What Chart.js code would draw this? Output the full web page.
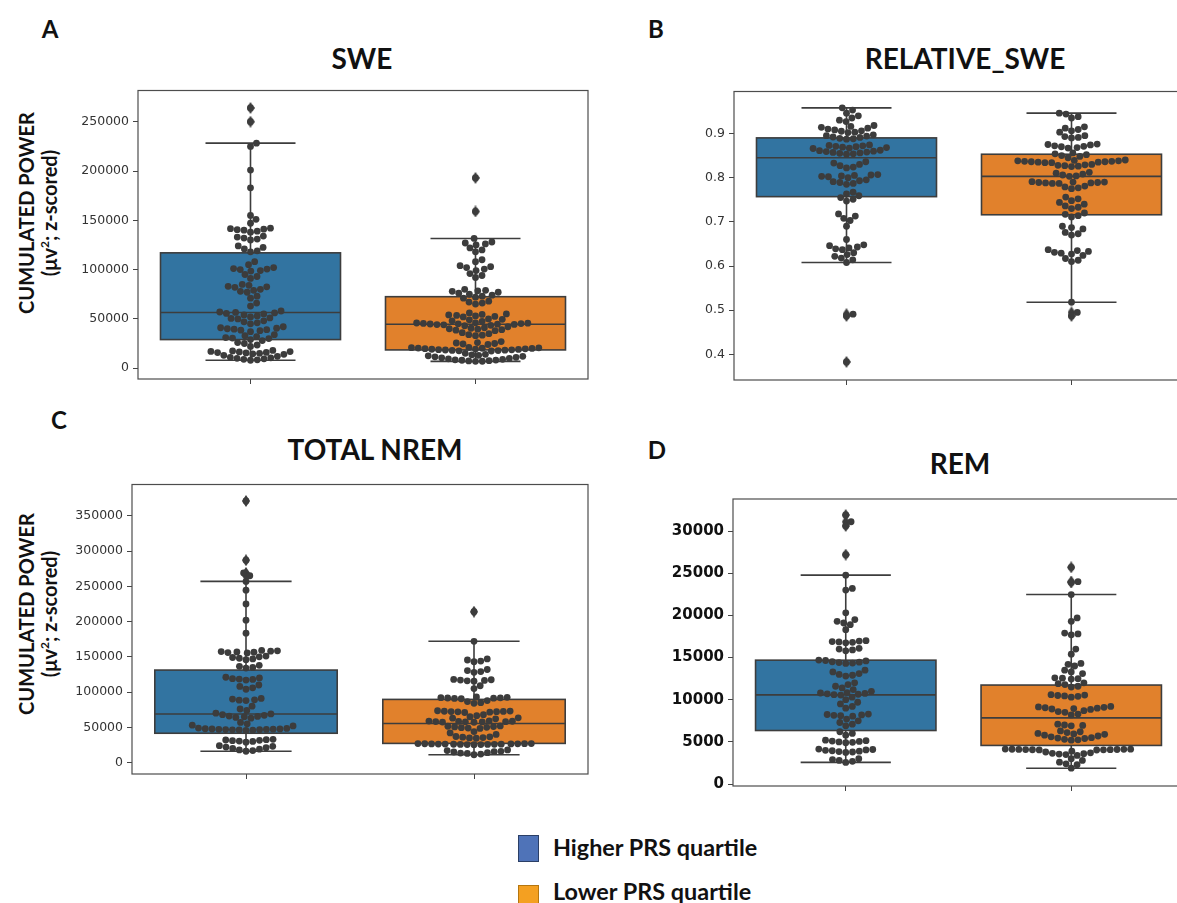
<!DOCTYPE html>
<html>
<head>
<meta charset="utf-8">
<script src="https://cdn.jsdelivr.net/npm/chart.js@4"></script>
<style>
  html, body { margin: 0; padding: 0; background: #fff; }
  #page { position: relative; width: 1177px; height: 903px; overflow: hidden; }
  canvas { position: absolute; }
  .txt { position: absolute; font-family: Lato, "Open Sans", sans-serif; font-weight: bold; color: #111;
         white-space: nowrap; line-height: 1; transform: translate(-50%, -50%); }
  .ytitle { position: absolute; font-family: Lato, "Open Sans", sans-serif; font-weight: bold; color: #111;
            white-space: nowrap; text-align: center; line-height: 23px; font-size: 20px;
            transform: translate(-50%, -50%) rotate(-90deg); }
  .ytitle sup { font-size: 12px; line-height: 0; }
  .sw { position: absolute; width: 19px; border: 1.5px solid; }
  .lg { position: absolute; font-family: Lato, "Open Sans", sans-serif; font-weight: bold; color: #111;
        font-size: 23.4px; white-space: nowrap; }
</style>
</head>
<body>
<div id="page">
  <div class="txt" style="left:50px;top:29px;font-size:24px">A</div>
  <div class="txt" style="left:656px;top:29px;font-size:24px">B</div>
  <div class="txt" style="left:59px;top:420px;font-size:24px">C</div>
  <div class="txt" style="left:657px;top:450px;font-size:24px">D</div>

  <div class="txt" style="left:362px;top:58px;font-size:28px">SWE</div>
  <div class="txt" style="left:965px;top:58px;font-size:28px">RELATIVE_SWE</div>
  <div class="txt" style="left:375px;top:449px;font-size:28px">TOTAL NREM</div>
  <div class="txt" style="left:960px;top:463px;font-size:28px">REM</div>

  <div class="ytitle" style="left:38px;top:213px">CUMULATED POWER<br>(μv<sup>2</sup>; z-scored)</div>
  <div class="ytitle" style="left:38px;top:614px">CUMULATED POWER<br>(μv<sup>2</sup>; z-scored)</div>

  <div class="sw" style="left:518px;top:835px;height:25px;background:#4f73b8;border-color:#2b3f66"></div>
  <div class="lg" style="left:553px;top:833px">Higher PRS quartile</div>
  <div class="sw" style="left:518px;top:885px;height:25px;background:#f4a021;border-color:#b5760f"></div>
  <div class="lg" style="left:553px;top:877px">Lower PRS quartile</div>

  <canvas id="chartSwe"></canvas>
  <canvas id="chartRelSwe"></canvas>
  <canvas id="chartNrem"></canvas>
  <canvas id="chartRem"></canvas>
</div>
<script>
// ---- A: SWE ----
const sweTicks = [0, 50000, 100000, 150000, 200000, 250000];
const sweQ1 = [29000, 18500];
const sweMedian = [56500, 44500];
const sweQ3 = [117000, 72500];
const sweWhiskerLow = [8000, 6900];
const sweWhiskerHigh = [228300, 131600];
const sweHigher = [264000, 250000,
  228300, 225000, 201000, 183000, 155000, 151000, 147000,
  142000, 141500, 141000, 140500, 140000, 139000, 138000,
  134000, 133000, 132000, 131000, 130000,
  124000, 122500, 121000, 119000, 118000,
  108000, 105000,
  102000, 101000, 100500, 100000, 99000, 98500,
  95000, 93000, 91000,
  85000, 84000, 83000, 82500, 82000,
  80000, 79000, 78000, 77000,
  73000, 71000, 66000, 63000,
  58000, 57000, 56500, 56000, 55500, 55000, 54000,
  53000, 52000, 51000, 50500, 50000,
  48000, 47000, 46000, 45000,
  42000, 41000, 40500, 40000, 39500, 39000, 38500, 38000, 37000,
  34000, 33000, 32000, 31000, 30500, 30000, 29000, 28000,
  26000, 25000, 23500, 22000,
  18000, 17500, 17000, 16800, 16500, 16000, 15800, 15500, 15000, 14500, 14000, 13000,
  12000, 11000, 10500, 10000, 9500, 9000, 8500, 8000];
const sweLower = [193000, 159000,
  131600, 128000, 127000, 126000, 125000, 122000, 120000, 118000, 110000, 108000,
  104000, 103000, 102000, 100500, 99000, 96000, 94000, 92000,
  80000, 79000, 78500, 78000, 77000, 76000,
  75000, 74000, 73000, 72000, 71000,
  68000, 67000, 66000, 65000,
  56000, 55000, 54500, 54000, 53500, 53000, 52500, 52000,
  50000, 49500, 49000, 48000, 47500,
  46000, 45800, 45600, 45400, 45200, 45000, 44800, 44600, 44400, 44200, 44000, 43500, 43000,
  42000, 41000, 40500, 40000, 39500, 39000, 38500, 38000,
  36000, 35000, 34000, 33500, 33000,
  27000, 26000, 25500, 25000, 24500, 24000,
  21000, 20800, 20600, 20400, 20200, 20000, 19800, 19600, 19400, 19200, 19000, 18800, 18600, 18400, 18200, 18000, 17800, 17600, 17400,
  15000, 14000, 13500, 13000, 12500, 12000, 11500, 11000, 10500, 10000,
  9500, 9000, 8500, 8200, 8000, 7600, 7300, 7000, 6900];

// ---- B: RELATIVE_SWE ----
const relTicks = [0.4, 0.5, 0.6, 0.7, 0.8, 0.9];
const relQ1 = [0.757, 0.716];
const relMedian = [0.845, 0.803];
const relQ3 = [0.890, 0.853];
const relWhiskerLow = [0.608, 0.518];
const relWhiskerHigh = [0.958, 0.946];
const relHigher = [0.958, 0.953, 0.946,
  0.940, 0.935, 0.930, 0.927,
  0.918, 0.916, 0.914, 0.912, 0.910, 0.908, 0.906, 0.905, 0.903, 0.902,
  0.897, 0.895, 0.894, 0.892, 0.891, 0.889, 0.888, 0.887,
  0.874, 0.873, 0.872, 0.871, 0.870, 0.869, 0.868, 0.867, 0.866,
  0.862, 0.861, 0.860, 0.859, 0.858, 0.857, 0.856, 0.855, 0.854, 0.853,
  0.836, 0.833, 0.830, 0.827, 0.824, 0.822,
  0.807, 0.806, 0.805, 0.804, 0.803, 0.802, 0.800,
  0.795, 0.793, 0.791, 0.789, 0.787, 0.785,
  0.767, 0.763, 0.759, 0.755, 0.751, 0.747,
  0.718, 0.713, 0.708, 0.703,
  0.690, 0.660,
  0.648, 0.646, 0.643, 0.641, 0.639, 0.637,
  0.630, 0.626, 0.622, 0.618, 0.614, 0.608,
  0.491, 0.487, 0.383];
const relLower = [0.946, 0.944, 0.938, 0.935,
  0.915, 0.912, 0.909, 0.906, 0.903,
  0.895, 0.893, 0.891, 0.890,
  0.876, 0.875, 0.874, 0.872, 0.871, 0.870, 0.868, 0.867,
  0.856, 0.854, 0.852, 0.850, 0.848, 0.845,
  0.840, 0.839, 0.838, 0.838, 0.837, 0.837, 0.836, 0.836, 0.835, 0.835, 0.834, 0.834,
  0.830, 0.829, 0.828, 0.827, 0.826, 0.825,
  0.812, 0.810, 0.808, 0.806, 0.804, 0.803,
  0.791, 0.790, 0.790, 0.789, 0.789, 0.788, 0.788, 0.787, 0.787,
  0.781, 0.779, 0.777, 0.775,
  0.756, 0.752, 0.748, 0.744, 0.740, 0.736, 0.733, 0.730,
  0.720, 0.717, 0.714, 0.711,
  0.690, 0.687, 0.684,
  0.676, 0.673, 0.670,
  0.637, 0.635, 0.633, 0.631, 0.629, 0.627, 0.624,
  0.617, 0.613, 0.610,
  0.518,
  0.495, 0.487];

// ---- C: TOTAL NREM ----
const nremTicks = [0, 50000, 100000, 150000, 200000, 250000, 300000, 350000];
const nremQ1 = [41600, 27200];
const nremMedian = [68800, 55500];
const nremQ3 = [131200, 89600];
const nremWhiskerLow = [16100, 11100];
const nremWhiskerHigh = [257000, 172000];
const nremHigher = [371000, 287000,
  269000, 265000, 257000, 244500, 225000, 202000, 183500,
  159000, 158500, 158000, 157500, 157000, 156500, 156000, 155500,
  151000, 150000, 149000, 148000, 147000, 146000,
  138000, 136500, 135000, 134000,
  121000, 120000, 119000, 118500, 118000, 117000,
  110000, 108000, 106000, 104000,
  91000, 90000, 89000, 88500, 88000,
  80000, 76000, 74000,
  70000, 69000, 68000, 67000, 66000, 65500, 65000, 64000, 63000,
  57000, 55000, 53000, 52000,
  49000, 48500, 48000, 47800, 47600, 47400, 47200, 47000, 46800, 46600, 46400, 46200, 46000, 45500,
  33000, 32500, 32000, 31500, 31000, 30500, 30000, 29000,
  24000, 23000, 22000, 21000, 20000, 19000, 18000, 17000, 16100];
const nremLower = [214000,
  172000, 147000, 145500, 144000, 143000,
  132000, 130500, 129000, 128000,
  118000, 117500, 117000, 116500, 116000, 115500,
  109000, 105000,
  93000, 92500, 92000, 91800, 91600, 91400, 91000, 90500,
  88000, 86500, 85000, 84000,
  73500, 73000, 72800, 72600, 72400, 72200, 72000, 71500, 71000,
  68000, 66500, 65000, 63500, 63000, 62000,
  59000, 58800, 58600, 58400, 58200, 58000, 57800, 57600, 57400, 57200,
  52000, 51500, 51000, 50500, 50000, 49500, 49000, 48500,
  44000, 42000, 40000,
  37000, 36500, 36000, 35500, 35000, 34500,
  27000, 26900, 26800, 26700, 26600, 26500, 26400, 26300, 26200, 26100, 26000, 25900, 25800, 25700, 25600, 25500, 25400,
  18000, 17000, 16000, 15500, 15000, 14000, 13500, 13000, 12000, 11100];

// ---- D: REM ----
const remTicks = [0, 5000, 10000, 15000, 20000, 25000, 30000];
const remQ1 = [6350, 4580];
const remMedian = [10580, 7850];
const remQ3 = [14690, 11740];
const remWhiskerLow = [2570, 1880];
const remWhiskerHigh = [24770, 22470];
const remHigher = [31900, 31100, 30600, 27200,
  24770, 23200, 23000, 20300,
  19500, 19300, 19100, 18900, 18300,
  17000, 16950, 16900, 16850, 16800, 16750,
  16100, 16000, 15900, 15800,
  14700, 14650, 14600, 14500, 14450, 14400, 14350, 14300,
  13500, 13300, 13100, 13000, 12900, 12800,
  12000, 11800, 11600, 11400, 11200, 11000,
  10850, 10800, 10750, 10700, 10650, 10600, 10550,
  10300, 10000, 9700, 9500, 9200, 9000,
  8300, 8250, 8200, 8150, 8100, 8050,
  7700, 7500, 7300, 7100, 6900,
  6200, 6000, 5800,
  5200, 5150, 5100, 5050, 5000, 4950, 4900,
  4150, 4100, 4050, 4000, 3950, 3900, 3850, 3800, 3750,
  3000, 2900, 2800, 2700, 2570];
const remLower = [25700, 24000, 23900,
  22470, 19700, 19300,
  17900, 17800, 17700,
  16000, 15400,
  14300, 14200, 14000,
  13500, 13300, 13100,
  12600, 12550, 12500, 12450,
  12000, 11900, 11800, 11600, 11500,
  10600, 10550, 10500, 10450, 10400, 10300,
  9200, 9150, 9100, 9050, 9000, 8950, 8900, 8850,
  8700, 8600, 8500, 8300, 8200,
  7100, 7000, 6950, 6900,
  6300, 6200, 6100, 6000, 5950, 5900, 5800, 5700,
  5600, 5500, 5450, 5400, 5300, 5250, 5200,
  4150, 4140, 4130, 4120, 4110, 4100, 4090, 4080, 4070, 4060, 4050, 4040,
  3900, 3800, 3700, 3650, 3600, 3550, 3500, 3400,
  3000, 2800, 2600, 2400, 2300,
  1880];

const boxColors = ['#3274a1', '#e1812c'];
const edgeColor = '#3d3d3d';
const dotColor = '#3c3c3c';
const DOT_R = 3.4;

// thin diamond used for fliers
const flierMarker = document.createElement('canvas');
flierMarker.width = 8; flierMarker.height = 12;
(function () {
    const c = flierMarker.getContext('2d');
    c.fillStyle = edgeColor;
    c.beginPath();
    c.moveTo(4, 0); c.lineTo(8, 6); c.lineTo(4, 12); c.lineTo(0, 6);
    c.closePath(); c.fill();
})();

const boxPlugin = {
    id: 'boxes',
    beforeDatasetsDraw(chart) {
        const st = chart.options.plugins.boxes;
        const { ctx, scales: { x, y } } = chart;
        ctx.save();
        ctx.lineWidth = 1.6;
        ctx.strokeStyle = edgeColor;
        for (let g = 0; g < 2; g++) {
            const xc = x.getPixelForValue(g);
            const xl = x.getPixelForValue(g - 0.4), xr = x.getPixelForValue(g + 0.4);
            const cl = x.getPixelForValue(g - 0.2), cr = x.getPixelForValue(g + 0.2);
            const q1 = y.getPixelForValue(st.q1[g]), q3 = y.getPixelForValue(st.q3[g]);
            const md = y.getPixelForValue(st.median[g]);
            const lo = y.getPixelForValue(st.low[g]), hi = y.getPixelForValue(st.high[g]);
            ctx.beginPath();
            ctx.moveTo(xc, q1); ctx.lineTo(xc, lo);
            ctx.moveTo(xc, q3); ctx.lineTo(xc, hi);
            ctx.moveTo(cl, lo); ctx.lineTo(cr, lo);
            ctx.moveTo(cl, hi); ctx.lineTo(cr, hi);
            ctx.stroke();
            ctx.fillStyle = boxColors[g];
            ctx.fillRect(xl, q3, xr - xl, q1 - q3);
            ctx.strokeRect(xl, q3, xr - xl, q1 - q3);
            ctx.beginPath();
            ctx.moveTo(xl, md); ctx.lineTo(xr, md);
            ctx.stroke();
        }
        ctx.restore();
    },
    afterDraw(chart) {
        const a = chart.chartArea, ctx = chart.ctx;
        ctx.save();
        ctx.strokeStyle = '#4d4d4d';
        ctx.lineWidth = 1.2;
        ctx.strokeRect(a.left, a.top, a.right - a.left, a.bottom - a.top);
        ctx.restore();
    }
};

// seaborn-like swarm: place each point at the free spot closest to the centre
function swarmOffsets(values, yScale, d) {
    const pts = values.map((v, i) => ({ i, py: yScale.getPixelForValue(v) }));
    pts.sort((a, b) => b.py - a.py);
    const placed = [];
    const out = new Array(values.length);
    pts.forEach(p => {
        const near = placed.filter(q => Math.abs(q.py - p.py) < d);
        const cands = [0];
        near.forEach(q => {
            const dx = Math.sqrt(d * d - (q.py - p.py) ** 2);
            cands.push(q.px + dx, q.px - dx);
        });
        cands.sort((a, b) => Math.abs(a) - Math.abs(b));
        p.px = cands.find(c => near.every(q => (q.px - c) ** 2 + (q.py - p.py) ** 2 >= d * d - 0.01));
        placed.push(p);
        out[p.i] = p.px;
    });
    return out;
}

function makePanel(id, plot, groups, stats, yRange, yTicks, tickFont, tickColor, fmt) {
    const yw = 90, pad = 5, xh = 14;
    const L = plot.x0 - yw, T = plot.y0 - pad;
    const W = plot.x1 - L + pad, H = plot.y1 - T + xh + 6;
    const el = document.getElementById(id);
    el.width = W; el.height = H;
    el.style.left = L + 'px'; el.style.top = T + 'px';
    el.style.width = W + 'px'; el.style.height = H + 'px';

    const swarmData = [], flierData = [];
    groups.forEach((vals, g) => {
        vals.forEach(v => {
            swarmData.push({ x: g, y: v });
            if (v < stats.low[g] || v > stats.high[g]) flierData.push({ x: g, y: v });
        });
    });

    const chart = new Chart(el, {
        type: 'scatter',
        data: {
            datasets: [{
                data: swarmData,
                pointRadius: DOT_R,
                pointBackgroundColor: dotColor,
                pointBorderWidth: 0,
            }, {
                data: flierData,
                pointStyle: flierMarker,
                pointRadius: 5,
            }]
        },
        options: {
            responsive: false,
            animation: false,
            layout: { autoPadding: false, padding: { top: pad, right: pad, bottom: 6, left: 0 } },
            plugins: { legend: { display: false }, tooltip: { enabled: false }, boxes: stats },
            scales: {
                x: {
                    type: 'linear', min: -0.5, max: 1.5,
                    afterBuildTicks: s => { s.ticks = [{ value: 0 }, { value: 1 }]; },
                    afterFit: s => { s.height = xh; },
                    ticks: { callback: () => '' },
                    grid: { drawOnChartArea: false, tickLength: 5, color: '#444' },
                    border: { display: false }
                },
                y: {
                    min: yRange[0], max: yRange[1],
                    afterBuildTicks: s => { s.ticks = yTicks.map(v => ({ value: v })); },
                    afterFit: s => { s.width = yw; },
                    ticks: { callback: fmt, font: tickFont, color: tickColor, padding: 4 },
                    grid: { drawOnChartArea: false, tickLength: 5, color: '#444' },
                    border: { display: false }
                }
            }
        },
        plugins: [boxPlugin]
    });

    // spread the dots sideways now that the scales exist
    const unit = chart.scales.x.getPixelForValue(1) - chart.scales.x.getPixelForValue(0);
    let k = 0;
    groups.forEach((vals, g) => {
        const off = swarmOffsets(vals, chart.scales.y, DOT_R * 2);
        vals.forEach((v, i) => { swarmData[k++].x = g + off[i] / unit; });
    });
    chart.update('none');
}

const lightFont = { family: 'DejaVu Sans', size: 12.5 };
const plainFmt = v => String(v);

makePanel('chartSwe', { x0: 138, x1: 588, y0: 84, y1: 379 }, [sweHigher, sweLower],
    { q1: sweQ1, median: sweMedian, q3: sweQ3, low: sweWhiskerLow, high: sweWhiskerHigh },
    [-11000, 281700], sweTicks, lightFont, '#333', plainFmt);

makePanel('chartRelSwe', { x0: 734, x1: 1184, y0: 85, y1: 380 }, [relHigher, relLower],
    { q1: relQ1, median: relMedian, q3: relQ3, low: relWhiskerLow, high: relWhiskerHigh },
    [0.342, 0.995], relTicks, lightFont, '#333', v => v.toFixed(1));

makePanel('chartNrem', { x0: 132, x1: 588, y0: 478, y1: 774 }, [nremHigher, nremLower],
    { q1: nremQ1, median: nremMedian, q3: nremQ3, low: nremWhiskerLow, high: nremWhiskerHigh },
    [-16200, 394400], nremTicks, lightFont, '#333', plainFmt);

makePanel('chartRem', { x0: 733, x1: 1184, y0: 491, y1: 786 }, [remHigher, remLower],
    { q1: remQ1, median: remMedian, q3: remQ3, low: remWhiskerLow, high: remWhiskerHigh },
    [-230, 33800], remTicks, { family: 'DejaVu Sans', size: 15, weight: 'bold' }, '#111', plainFmt);
</script>
</body>
</html>
